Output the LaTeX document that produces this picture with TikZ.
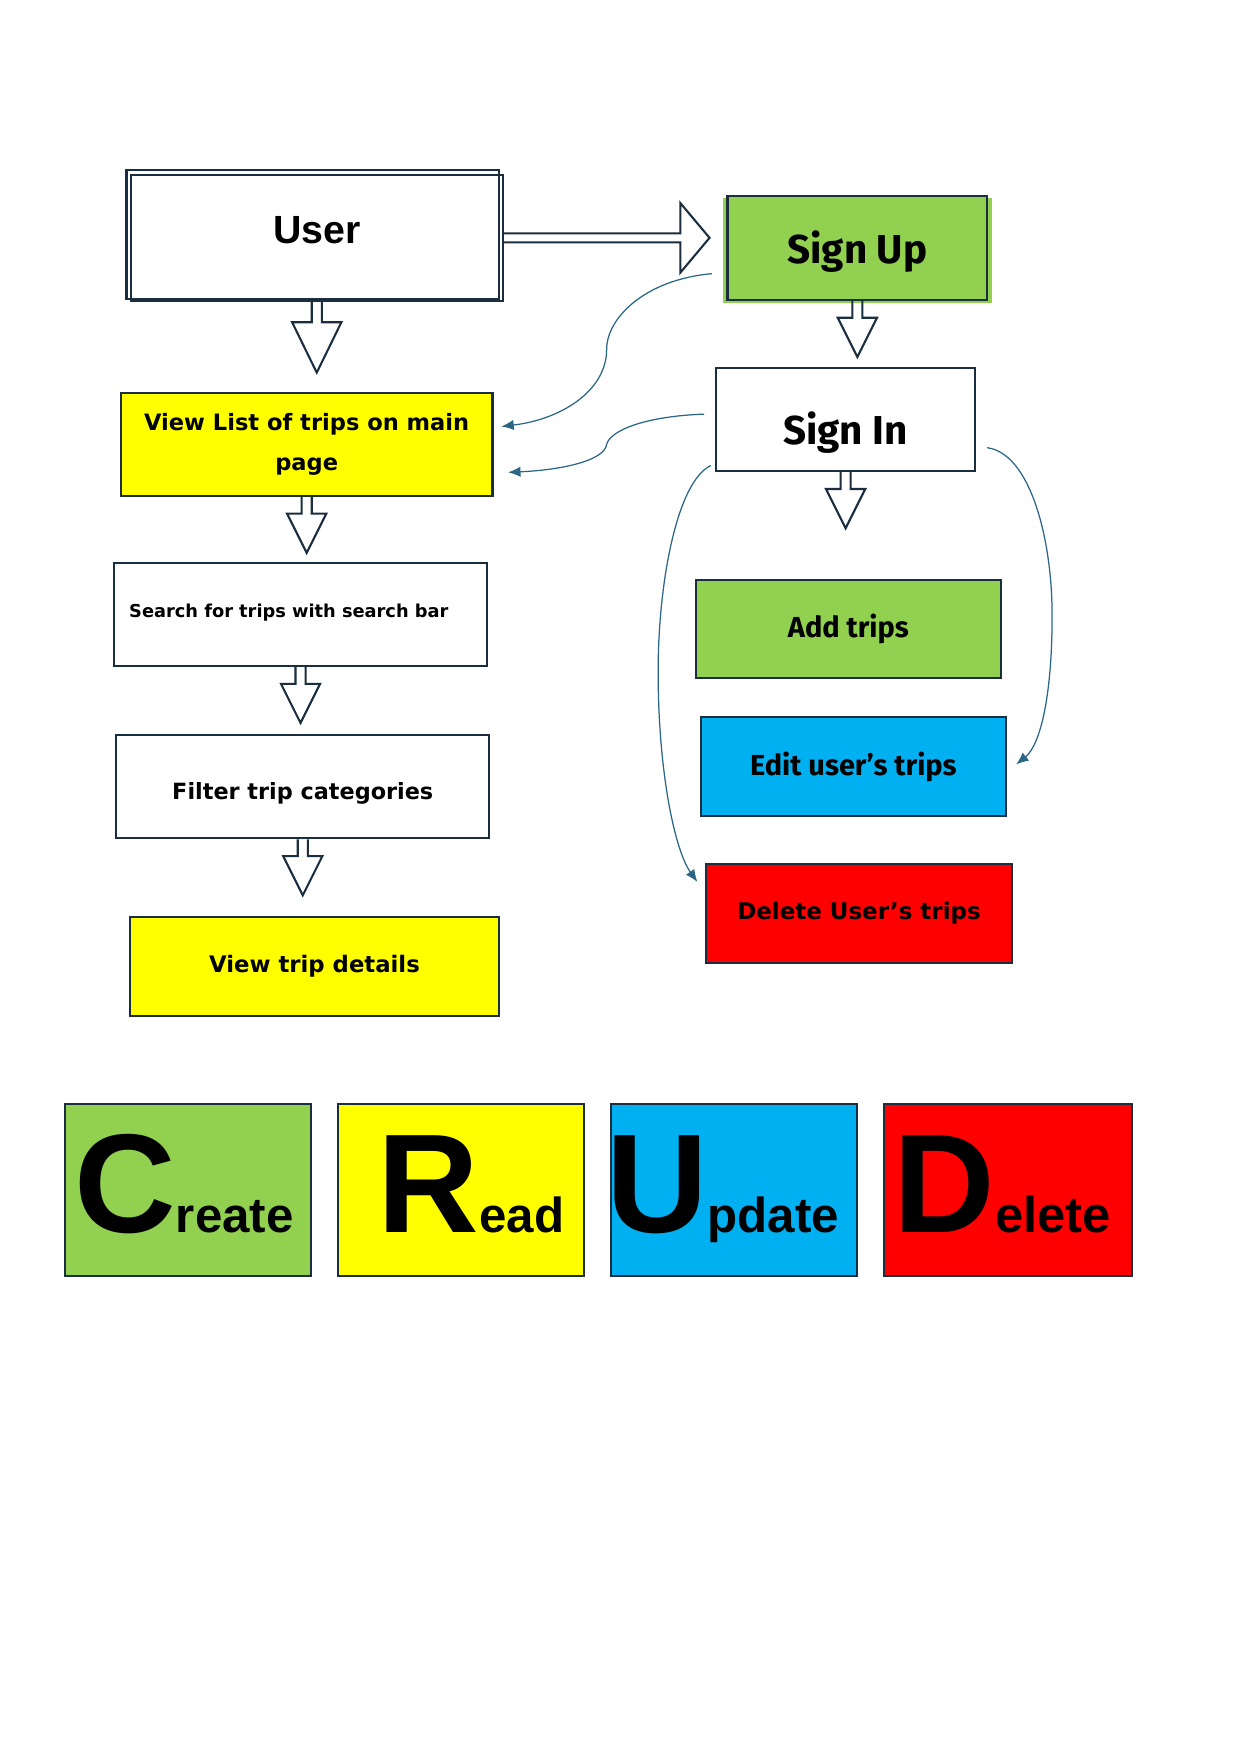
\documentclass[tikz,border=0pt]{standalone}
\usepackage{fontspec}
\setmainfont{Liberation Sans}
\newfontfamily\aptos{Fira Sans}
\newfontfamily\widef{DejaVu Sans}
\usetikzlibrary{calc,arrows.meta}
\definecolor{edge}{HTML}{1A2E3F}
\definecolor{cgreen}{HTML}{92D050}
\definecolor{cyellow}{HTML}{FFFF00}
\definecolor{cblue}{HTML}{00B0F0}
\definecolor{cred}{HTML}{FF0000}
\definecolor{link}{HTML}{2A6787}
\newcommand\blkdown[5]{%
  \draw[blk] ($(#1)+(-#4,0)$) -- ++(0,#2) -- ++(#4-#5,0) -- ++(#5,#3) -- ++(#5,-#3) -- ++(#4-#5,0) -- ++(0,-#2);}
\newcommand\blkright[5]{%
  \draw[blk] ($(#1)+(0,-#4)$) -- ++(#2,0) -- ++(0,#4-#5) -- ++(#3,#5) -- ++(-#3,#5) -- ++(0,#4-#5) -- ++(-#2,0);}
\newcommand\bx[7]{%
  \node[box,#6,minimum width={(#4-#2)*0.5409pt},minimum height={(#5-#3)*0.5409pt}] (#1) at ({(#2+#4)/2},{(#3+#5)/2}) {#7};}
\newcommand\shiftv[2]{\raisebox{#1}[\height][\depth]{#2}}
\begin{document}
\begin{tikzpicture}[x=0.5409pt,y=-0.5409pt,
  box/.style={draw=edge,line width=1pt,rectangle,inner sep=0pt,align=center},
  blk/.style={draw=edge,line width=1pt,line join=miter},
  curve/.style={draw=link,line width=0.6pt,-{Latex[length=6pt,width=5pt]}},
  bigl/.style={anchor=base west,inner sep=0pt,font=\bfseries}]
\fill[white] (0,0) rectangle (1109,1568);
\useasboundingbox (0,0) rectangle (1109,1568);

% User
\draw[edge,line width=1pt] (113,152) rectangle (446,267);
\bx{user}{117}{156}{449}{269}{font=\bfseries\fontsize{19}{22}\selectfont}{\shiftv{3.8pt}{User}}

% left column
\bx{viewlist}{108}{351}{440}{443}{fill=cyellow,font=\widef\bfseries\fontsize{10.9}{19.5}\selectfont}{View List of trips on main\\page}
\bx{search}{102}{503}{435}{595}{}{}
\node[anchor=west,inner sep=0pt,font=\widef\bfseries\fontsize{8.6}{10}\selectfont] (searchtxt) at ($(search.west)+(14,-2)$) {Search for trips with search bar};
\bx{filter}{104}{657}{437}{749}{font=\widef\bfseries\fontsize{10.8}{13}\selectfont}{\shiftv{-3.2pt}{Filter trip categories}}
\bx{details}{116}{819}{446}{908}{fill=cyellow,font=\widef\bfseries\fontsize{11}{13}\selectfont}{View trip details}

% right column
\fill[cgreen] (646,177) rectangle (886,271);
\bx{signup}{650}{175}{882}{268}{fill=cgreen,font=\aptos\bfseries\fontsize{19.5}{22}\selectfont}{\shiftv{-1.6pt}{Sign Up}}
\bx{signin}{640}{329}{871}{421}{font=\aptos\bfseries\fontsize{19.5}{22}\selectfont}{\shiftv{-6pt}{Sign In}}
\bx{add}{622}{518}{894}{606}{fill=cgreen,font=\aptos\bfseries\fontsize{14}{16}\selectfont}{Add trips}
\bx{edit}{626}{641}{899}{729}{fill=cblue,font=\aptos\bfseries\fontsize{14}{16}\selectfont}{Edit user’s trips}
\bx{delete}{631}{772}{904}{860}{fill=cred,font=\widef\bfseries\fontsize{11.1}{13}\selectfont}{Delete User’s trips}

% block arrows
\blkdown{user.south}{18}{45}{4.5}{22}
\blkdown{viewlist.south}{15}{35}{4.5}{17.5}
\blkdown{search.south}{15}{35}{4.5}{17.5}
\blkdown{filter.south}{15}{35}{4.5}{17.5}
\blkdown{signup.south}{15}{35}{4.5}{17.5}
\blkdown{signin.south}{15}{35}{4.5}{17.5}
\blkright{user.east}{158}{26}{4}{31}

% curved connectors
\draw[curve] ($(signup.west)+(-13,23)$) .. controls (575,250) and (542,285) .. (542,312) .. controls (542,350) and (500,375) .. ($(viewlist.east)+(7,-16)$);
\draw[curve] ($(signin.west)+(-10,-5)$) .. controls (575,372) and (545,385) .. (542,397) .. controls (540,412) and (500,420) .. ($(viewlist.east)+(13,25)$);
\draw[curve] ($(signin.south west)+(-4,-6)$) .. controls (605,430) and (588,520) .. (588,600) .. controls (588,690) and (603,760) .. ($(delete.west)+(-7,-28)$);
\draw[curve] ($(signin.east)+(10,25)$) .. controls (920,405) and (940,480) .. (940,550) .. controls (940,620) and (930,665) .. ($(edit.east)+(8,-2)$);

% CRUD
\bx{create}{58}{986}{278}{1140}{fill=cgreen}{}
\bx{read}{302}{986}{522}{1140}{fill=cyellow}{}
\bx{update}{546}{986}{766}{1140}{fill=cblue}{}
\bx{deletec}{790}{986}{1011}{1140}{fill=cred}{}
\node[bigl] (ctext) at ($(create.south west)+(9,-40)$) {\fontsize{68}{68}\selectfont C\fontsize{23.8}{24}\selectfont reate};
\node[bigl] (rtext) at ($(read.south west)+(36,-40)$) {\fontsize{68}{68}\selectfont R\fontsize{23.8}{24}\selectfont ead};
\node[bigl] (utext) at ($(update.south west)+(-4,-40)$) {\fontsize{68}{68}\selectfont U\fontsize{23.8}{24}\selectfont pdate};
\node[bigl] (dtext) at ($(deletec.south west)+(9,-40)$) {\fontsize{68}{68}\selectfont D\fontsize{24.5}{25}\selectfont elete};
\end{tikzpicture}
\end{document}
